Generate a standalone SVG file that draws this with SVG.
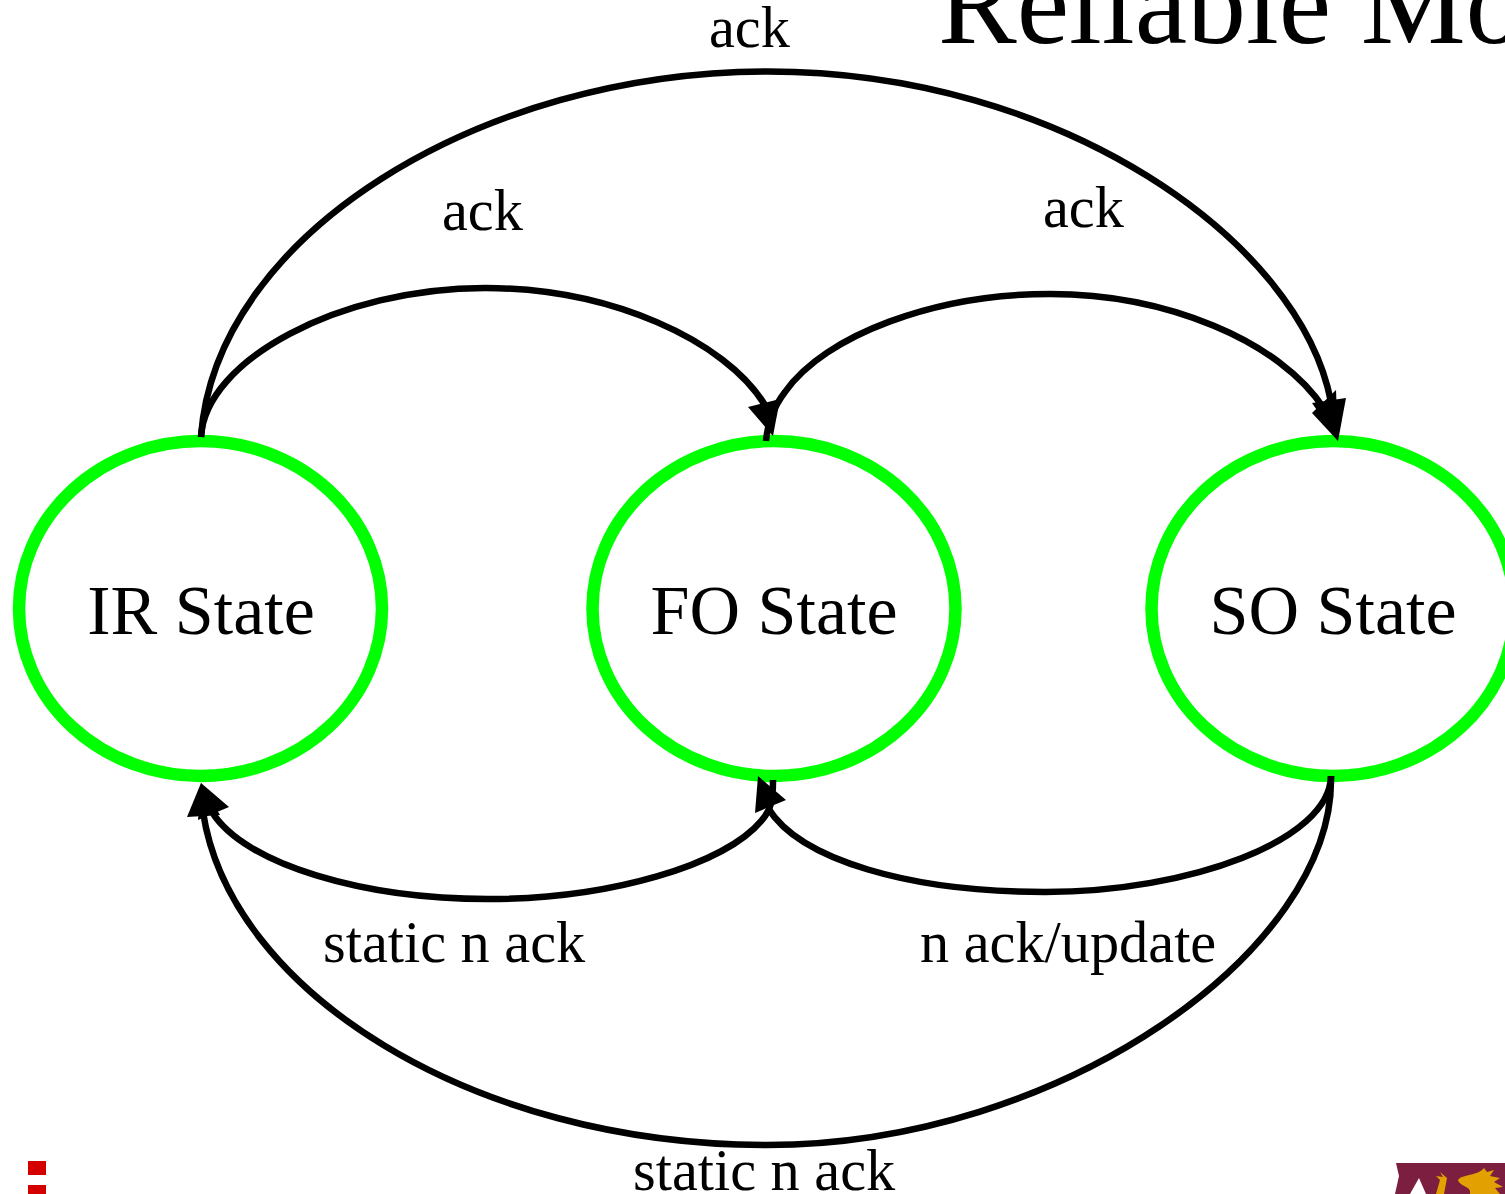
<svg xmlns="http://www.w3.org/2000/svg" width="1505" height="1194" viewBox="0 0 1505 1194">
<style>
text{font-family:"Liberation Serif","Times New Roman",serif;fill:#000}
.s{font-size:70px;text-anchor:middle}
.l{font-size:58.300px}
.n{fill:#fff;stroke:#0f0;stroke-width:12.500}
.e{fill:none;stroke:#000;stroke-width:6.500}
.h{fill:#000}
</style>
<rect width="1505" height="1194" fill="#fff"/>
<text x="938" y="43" font-size="118">Reliable Mo</text>
<g id="node-ir"><ellipse class="n" cx="200.500" cy="608.500" rx="181.500" ry="167.500"/><text class="s" x="201" y="634">IR State</text></g>
<g id="node-fo"><ellipse class="n" cx="774" cy="608.500" rx="181.500" ry="167.500"/><text class="s" x="774" y="634">FO State</text></g>
<g id="node-so"><ellipse class="n" cx="1333" cy="608.500" rx="181.500" ry="167.500"/><text class="s" x="1333" y="634">SO State</text></g>
<g id="connectors">
<path class="e" d="M201,437C215,235 480,71.500 768,71.500C1060,71.500 1300,240 1331,402"/>
<polygon class="h" points="1338,441 1312,403 1346,398"/>
<path class="e" d="M201,437C205,360 340,288 485,288C610,288 725,340 765,405"/>
<polygon class="h" points="748,407 780,399 773,436"/>
<path class="e" d="M766,441C768,420 775,405 785,392C825,335 935,294 1050,294C1165,294 1280,340 1325,410"/>
<polygon class="h" points="1338,441 1312,413 1336,390"/>
<path class="e" d="M773,780C773,800 771,810 762,820C725,865 610,899 488,899C365,899 245,865 212,812"/>
<polygon class="h" points="201,783 229,807 198,820"/>
<path class="e" d="M1331,776C1330,840 1190,892 1045,892C910,892 800,860 768,808"/>
<polygon class="h" points="758,776 786,800 755,813"/>
<path class="e" d="M1331,776C1335,950 1060,1145 767,1145C470,1145 230,990 203,812"/>
<polygon class="h" points="201,783 187,817 220,815"/>
<text class="l" x="709" y="47">ack</text>
<text class="l" x="442" y="230">ack</text>
<text class="l" x="1043" y="227">ack</text>
<text class="l" x="323" y="962">static n ack</text>
<text class="l" x="920" y="962">n ack/update</text>
<text class="l" x="633" y="1190">static n ack</text>
</g>
<rect x="28" y="1161" width="18" height="14" fill="#d40000"/>
<rect x="28" y="1185" width="18" height="9" fill="#d40000"/>
<path d="M1396,1163H1505V1194H1426L1419,1178L1410,1194H1395L1399,1176Z" fill="#7b1e3f"/>
<path d="M1436,1194L1440,1180L1436,1176L1443,1177L1440,1172L1447,1178L1444,1194Z" fill="#e2a100"/>
<path d="M1458,1180C1462,1174 1478,1176 1484,1168L1487,1172L1494,1170L1490,1176L1500,1178L1494,1182L1503,1187L1495,1188L1500,1194H1470C1472,1186 1460,1187 1458,1180Z" fill="#e2a100"/>
</svg>
